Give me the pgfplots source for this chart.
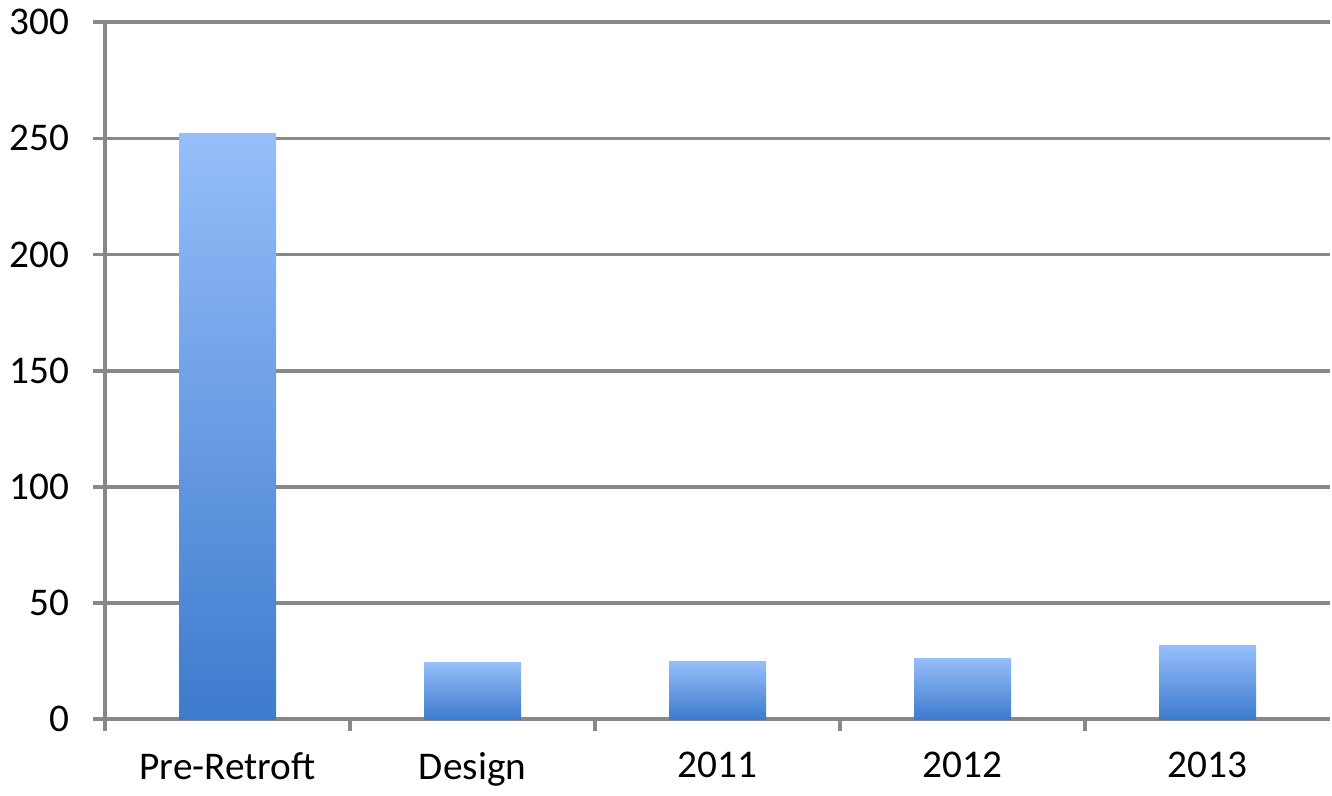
\documentclass[border=0pt]{standalone}
\usepackage{pgfplots}
\pgfplotsset{compat=1.18}
\usepackage{fontspec}
\setmainfont{Carlito}
\definecolor{gridgray}{HTML}{888888}
\definecolor{bartop}{HTML}{96BEFA}
\definecolor{barbot}{HTML}{3D7BCD}
\begin{document}
\begin{tikzpicture}
\begin{axis}[
  width=437pt, height=248.6pt, scale only axis,
  xmin=-0.5, xmax=4.5, ymin=0, ymax=300,
  axis lines=left,
  axis line style={-, gridgray, line width=1.3pt},
  xtick={0,...,4},
  xticklabels={Pre-Retroft, Design, 2011, 2012, 2013},
  minor xtick={-0.5,0.5,1.5,2.5,3.5},
  major x tick style={draw=none},
  minor x tick style={gridgray, line width=1.3pt},
  minor tick length=4.3pt,
  ytick={0,50,...,300},
  y tick style={gridgray, line width=1.3pt},
  major tick length=4.3pt,
  tick align=outside,
  ymajorgrids,
  major grid style={gridgray, line width=1.3pt},
  tick label style={font=\fontsize{14}{16}\selectfont},
  /pgf/number format/assume math mode=true,
  yticklabel style={xshift=-5pt},
  xticklabel style={yshift=-4pt},
  bar/.style={ybar, bar width=34.6pt, bar shift=0pt,
    draw=none, top color=bartop, bottom color=barbot},
  clip=false,
]
\addplot[bar] coordinates {(0,252.2)};
\addplot[bar] coordinates {(1,24.2)};
\addplot[bar] coordinates {(2,25.0)};
\addplot[bar] coordinates {(3,26.3)};
\addplot[bar] coordinates {(4,31.5)};
\end{axis}
\end{tikzpicture}
\end{document}
